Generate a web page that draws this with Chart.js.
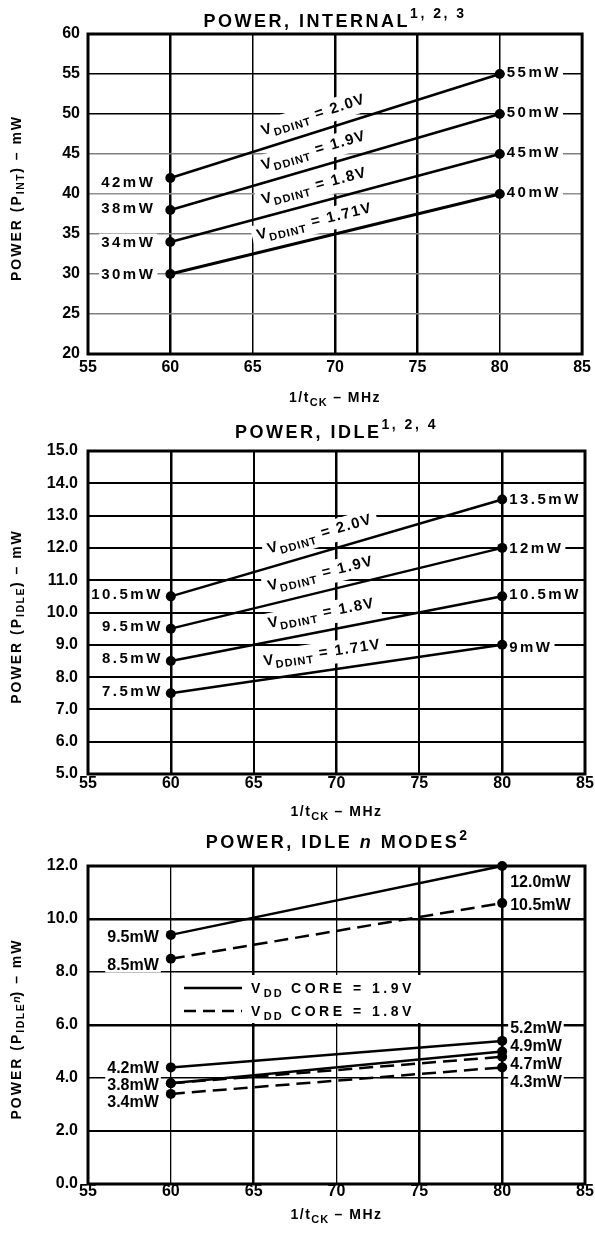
<!DOCTYPE html>
<html>
<head>
<meta charset="utf-8">
<script src="https://cdn.jsdelivr.net/npm/chart.js@4.4.1/dist/chart.umd.min.js"></script>
<style>
    html, body { margin: 0; padding: 0; background: #fff; }
    .wrap { position: absolute; left: 0; width: 595px; height: 411px; }
</style>
</head>
<body>
<div class="wrap" style="top:0"><canvas id="cInt"></canvas></div>
<div class="wrap" style="top:411px"><canvas id="cIdle"></canvas></div>
<div class="wrap" style="top:822px"><canvas id="cIdleN"></canvas></div>
<script>
// ---- data ----
const freqs = [60, 80];
const xTicks = [55, 60, 65, 70, 75, 80, 85];

// POWER, INTERNAL
const intTicks = [20, 25, 30, 35, 40, 45, 50, 55, 60];
const intVolts = ['2.0V', '1.9V', '1.8V', '1.71V'];
const int20 = [42, 55];
const int19 = [38, 50];
const int18 = [34, 45];
const int171 = [30, 40];
const intLeft = ['42mW', '38mW', '34mW', '30mW'];
const intRight = ['55mW', '50mW', '45mW', '40mW'];

// POWER, IDLE
const idleTicks = [5, 6, 7, 8, 9, 10, 11, 12, 13, 14, 15];
const idleVolts = ['2.0V', '1.9V', '1.8V', '1.71V'];
const idle20 = [10.5, 13.5];
const idle19 = [9.5, 12];
const idle18 = [8.5, 10.5];
const idle171 = [7.5, 9];
const idleLeft = ['10.5mW', '9.5mW', '8.5mW', '7.5mW'];
const idleRight = ['13.5mW', '12mW', '10.5mW', '9mW'];

// POWER, IDLE n MODES
const idleNTicks = [0, 2, 4, 6, 8, 10, 12];
const coreVolts = ['1.9V', '1.8V'];
const core19Hi = [9.4, 12.0];
const core18Hi = [8.5, 10.6];
const core19LoA = [4.4, 5.4];
const core19LoB = [3.8, 5.0];
const core18LoA = [3.8, 4.8];
const core18LoB = [3.4, 4.4];
const idleNLeft = ['9.5mW', '8.5mW', '4.2mW', '3.8mW', '', '3.4mW'];
const idleNRight = ['12.0mW', '10.5mW', '5.2mW', '4.9mW', '4.7mW', '4.3mW'];

// ---- drawing helpers ----
const FONT = "'Liberation Sans', Arial, Helvetica, sans-serif";

function segFont(s) {
    return (s.it ? 'italic ' : '') + 'bold ' + s.s + 'px ' + FONT;
}

function richWidth(ctx, segs) {
    let w = 0;
    segs.forEach(s => {
        ctx.font = segFont(s);
        ctx.letterSpacing = (s.ls || 0) + 'px';
        w += ctx.measureText(s.t).width;
    });
    return w;
}

// text is centred vertically on y (cap height of first segment)
function drawRich(ctx, segs, x, y, align, angle, bg) {
    ctx.save();
    ctx.translate(x, y);
    ctx.rotate(angle || 0);
    const w = richWidth(ctx, segs);
    const cap = segs[0].s * 0.72;
    let cx = align === 'center' ? -w / 2 : (align === 'right' ? -w : 0);
    if (bg) {
        ctx.fillStyle = '#fff';
        ctx.fillRect(cx - bg[0], -cap / 2 - bg[1], w + 2 * bg[0], cap + 2 * bg[1] + (bg[2] || 0));
    }
    ctx.fillStyle = '#000';
    ctx.textAlign = 'left';
    ctx.textBaseline = 'alphabetic';
    segs.forEach(s => {
        ctx.font = segFont(s);
        ctx.letterSpacing = (s.ls || 0) + 'px';
        ctx.fillText(s.t, cx, cap / 2 + (s.dy || 0));
        cx += ctx.measureText(s.t).width;
    });
    ctx.restore();
}

const annotPlugin = {
    id: 'annot',
    beforeDatasetsDraw(chart, args, o) {
        const ctx = chart.ctx, a = chart.chartArea;
        (o.lineLabels || []).forEach(l => {
            const pts = chart.getDatasetMeta(l.ds).data;
            const p0 = pts[0], p1 = pts[1];
            const ang = Math.atan2(p1.y - p0.y, p1.x - p0.x);
            const px = chart.scales.x.getPixelForValue(l.at);
            const py = p0.y + (p1.y - p0.y) * (px - p0.x) / (p1.x - p0.x);
            const cx = px + Math.sin(ang) * l.off;
            const cy = py - Math.cos(ang) * l.off;
            drawRich(ctx, l.segs, cx, cy, 'center', ang, [5, 4, 4]);
        });
        (o.pointLabels || []).forEach(l => {
            if (!l.text) return;
            const p = chart.getDatasetMeta(l.ds).data[l.i];
            drawRich(ctx, [{ t: l.text, s: o.labelSize, ls: o.labelSpacing }],
                p.x + l.dx, p.y + l.dy, l.dx < 0 ? 'right' : 'left', 0, [2, 3]);
        });
        if (o.legend) {
            const lg = o.legend;
            ctx.fillStyle = '#fff';
            ctx.fillRect(a.left + lg.left, a.top + lg.top, lg.w, lg.h);
        }
        ctx.save();
        ctx.strokeStyle = '#000';
        ctx.lineWidth = 3;
        ctx.strokeRect(a.left, a.top, a.right - a.left, a.bottom - a.top);
        ctx.restore();
    },
    afterDatasetsDraw(chart, args, o) {
        if (!o.legend) return;
        const ctx = chart.ctx, a = chart.chartArea, lg = o.legend;
        lg.rows.forEach(r => {
            const y = a.top + r.y;
            ctx.save();
            ctx.strokeStyle = '#000';
            ctx.lineWidth = 2.5;
            ctx.setLineDash(r.dash);
            ctx.beginPath();
            ctx.moveTo(a.left + lg.lineX0, y);
            ctx.lineTo(a.left + lg.lineX1, y);
            ctx.stroke();
            ctx.restore();
            drawRich(ctx, r.segs, a.left + lg.textX, y, 'left', 0);
        });
    },
    afterDraw(chart, args, o) {
        const ctx = chart.ctx, a = chart.chartArea;
        const mid = (a.left + a.right) / 2;
        drawRich(ctx, o.title, mid, o.titleY, 'center', 0);
        drawRich(ctx, o.xTitle, mid, o.xTitleY, 'center', 0);
        drawRich(ctx, o.yTitle, 15.5, (a.top + a.bottom) / 2 + 4, 'center', -Math.PI / 2);
    }
};

function lineSet(values, dash, width) {
    return {
        data: freqs.map((f, i) => ({ x: f, y: values[i] })),
        borderColor: '#000',
        borderWidth: width || 2.5,
        borderDash: dash || [],
        pointRadius: 5,
        pointBackgroundColor: '#000',
        pointBorderWidth: 0,
        tension: 0,
        clip: false,
    };
}

function vddLabel(volt) {
    return [
        { t: 'V', s: 15, ls: 1.5 },
        { t: 'DDINT', s: 11, ls: 1, dy: 4 },
        { t: ' = ' + volt, s: 15, ls: 1.5 },
    ];
}

function xTitle() {
    return [
        { t: '1/t', s: 14, ls: 1.5 },
        { t: 'CK', s: 11, ls: 1, dy: 4 },
        { t: ' – MHz', s: 14, ls: 1.5 },
    ];
}

function buildChart(id, spec) {
    const tickFont = { family: FONT, size: 16, weight: 'bold' };
    return new Chart(document.getElementById(id), {
        type: 'line',
        data: { datasets: spec.datasets },
        options: {
            animation: false,
            responsive: true,
            maintainAspectRatio: false,
            events: [],
            layout: { autoPadding: false, padding: { top: spec.top, right: 10, left: 0, bottom: 0 } },
            scales: {
                x: {
                    type: 'linear',
                    min: 55,
                    max: 85,
                    afterFit: s => { s.height = spec.bottom; },
                    afterBuildTicks: ax => { ax.ticks = xTicks.map(v => ({ value: v })); },
                    border: { display: false },
                    grid: {
                        drawTicks: false,
                        color: c => (c.tick && spec.xGrid[c.tick.value]) ? '#000' : 'rgba(0,0,0,0)',
                        lineWidth: c => (c.tick && spec.xGrid[c.tick.value]) || 0,
                    },
                    ticks: {
                        font: tickFont, color: '#000', padding: spec.xPad,
                        maxRotation: 0, autoSkip: false,
                    },
                },
                y: {
                    min: spec.yTicks[0],
                    max: spec.yTicks[spec.yTicks.length - 1],
                    afterFit: s => { s.width = 88; },
                    afterBuildTicks: ax => { ax.ticks = spec.yTicks.map(v => ({ value: v })); },
                    border: { display: false },
                    grid: {
                        drawTicks: false,
                        color: c => (c.tick && spec.yGrid[c.tick.value]) ? spec.yGrid[c.tick.value][0] : 'rgba(0,0,0,0)',
                        lineWidth: c => (c.tick && spec.yGrid[c.tick.value]) ? spec.yGrid[c.tick.value][1] : 0,
                    },
                    ticks: {
                        font: tickFont, color: '#000', padding: spec.yPad, autoSkip: false,
                        callback: v => spec.yFmt(v),
                    },
                },
            },
            plugins: {
                legend: { display: false },
                tooltip: { enabled: false },
                annot: spec.annot,
            },
        },
        plugins: [annotPlugin],
    });
}

// ---- chart 1 : internal ----
const intSets = [int20, int19, int18, int171];
buildChart('cInt', {
    top: 34, bottom: 57, xPad: 4, yPad: 8,
    yTicks: intTicks,
    yFmt: v => String(v),
    xGrid: { 60: 2.5, 65: 1.5, 70: 2.5, 75: 2.5, 80: 1.5 },
    yGrid: { 25: ['#808080', 1.5], 30: ['#808080', 1.5], 35: ['#808080', 1.5], 40: ['#909090', 1.5],
        45: ['#808080', 1.5], 50: ['#000', 1.5], 55: ['#000', 1.5] },
    datasets: intSets.map((d, i) => lineSet(d, [], i === 3 ? 3 : 2.5)),
    annot: {
        labelSize: 15, labelSpacing: 2.5,
        title: [{ t: 'POWER, INTERNAL', s: 18, ls: 2.5 }, { t: '1, 2, 3', s: 14, ls: 2.5, dy: -9 }],
        titleY: 20.5,
        xTitle: xTitle(), xTitleY: 397,
        yTitle: [{ t: 'POWER (P', s: 14, ls: 2 }, { t: 'INT', s: 10.5, ls: 1.5, dy: 3 }, { t: ') – mW', s: 14, ls: 2 }],
        lineLabels: intVolts.map((v, i) => ({ ds: i, at: 69, off: 18, segs: vddLabel(v) })),
        pointLabels: [
            ...intLeft.map((t, i) => ({ ds: i, i: 0, text: t, dx: -15, dy: [4, -2, 0, 0][i] })),
            ...intRight.map((t, i) => ({ ds: i, i: 1, text: t, dx: 7, dy: -2 })),
        ],
    },
});

// ---- chart 2 : idle ----
const idleSets = [idle20, idle19, idle18, idle171];
buildChart('cIdle', {
    top: 40, bottom: 48, xPad: 0, yPad: 10,
    yTicks: idleTicks,
    yFmt: v => v.toFixed(1),
    xGrid: { 60: 2.5, 65: 2, 70: 2.5, 75: 2, 80: 2.5 },
    yGrid: { 6: ['#000', 2], 7: ['#000', 2], 8: ['#000', 2], 9: ['#000', 2], 10: ['#000', 2],
        11: ['#000', 2], 12: ['#000', 2], 13: ['#000', 2], 14: ['#000', 2] },
    datasets: idleSets.map(d => lineSet(d, [], 2.5)),
    annot: {
        labelSize: 15, labelSpacing: 2.5,
        title: [{ t: 'POWER, IDLE', s: 18, ls: 2.5 }, { t: '1, 2, 4', s: 14, ls: 2.5, dy: -9 }],
        titleY: 21,
        xTitle: xTitle(), xTitleY: 400,
        yTitle: [{ t: 'POWER (P', s: 14, ls: 2 }, { t: 'IDLE', s: 10.5, ls: 1.5, dy: 3 }, { t: ') – mW', s: 14, ls: 2 }],
        lineLabels: idleVolts.map((v, i) => ({ ds: i, at: 69.3, off: 19, segs: vddLabel(v) })),
        pointLabels: [
            ...idleLeft.map((t, i) => ({ ds: i, i: 0, text: t, dx: -8, dy: -3 })),
            ...idleRight.map((t, i) => ({ ds: i, i: 1, text: t, dx: 7, dy: [-1, 0, -3, 2][i] })),
        ],
    },
});

// ---- chart 3 : idle n modes ----
const idleNSets = [core19Hi, core18Hi, core19LoA, core19LoB, core18LoA, core18LoB];
const idleNDash = [false, true, false, false, true, true];
function coreLabel(volt) {
    return [
        { t: 'V', s: 14, ls: 3.5 },
        { t: 'DD', s: 11, ls: 2, dy: 4 },
        { t: ' CORE = ' + volt, s: 14, ls: 3.5 },
    ];
}
buildChart('cIdleN', {
    top: 44, bottom: 49, xPad: -2, yPad: 10,
    yTicks: idleNTicks,
    yFmt: v => v.toFixed(1),
    xGrid: { 60: 1.3, 65: 2.5, 70: 1.3, 75: 2.5, 80: 2.5 },
    yGrid: { 2: ['#000', 2], 4: ['#000', 1.5], 6: ['#000', 2.5], 8: ['#000', 1.5], 10: ['#000', 2.5] },
    datasets: idleNSets.map((d, i) => lineSet(d, idleNDash[i] ? [14, 7] : [], 2.5)),
    annot: {
        labelSize: 16, labelSpacing: 0,
        title: [{ t: 'POWER, IDLE ', s: 18, ls: 2.5 }, { t: 'n', s: 18, ls: 2.5, it: true },
            { t: ' MODES', s: 18, ls: 2.5 }, { t: '2', s: 14, dy: -8 }],
        titleY: 19.5,
        xTitle: xTitle(), xTitleY: 392,
        yTitle: [{ t: 'POWER (P', s: 14, ls: 2 }, { t: 'IDLE', s: 10.5, ls: 1.5, dy: 3 },
            { t: 'n', s: 10.5, it: true, dy: -1 }, { t: ') – mW', s: 14, ls: 2 }],
        pointLabels: [
            ...idleNLeft.map((t, i) => ({ ds: i, i: 0, text: t, dx: -12, dy: [1, 5, 0, 1, 0, 7][i] })),
            ...idleNRight.map((t, i) => ({ ds: i, i: 1, text: t, dx: 8, dy: [15, 1, -14, -6, 6, 14][i] })),
        ],
        legend: {
            left: 89, top: 109, w: 252, h: 48,
            lineX0: 96, lineX1: 154, textX: 163,
            rows: [
                { y: 122, dash: [], segs: coreLabel(coreVolts[0]) },
                { y: 145, dash: [12, 7], segs: coreLabel(coreVolts[1]) },
            ],
        },
    },
});
</script>
</body>
</html>
